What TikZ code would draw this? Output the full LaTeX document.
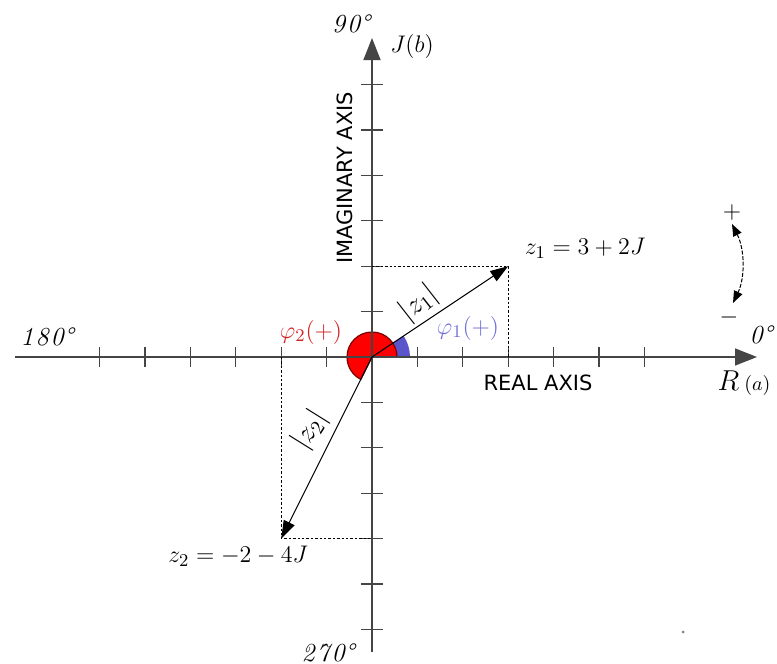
\documentclass[tikz,border=0pt]{standalone}
\usepackage{fontspec}
\newfontfamily\axisfont{DejaVu Sans}
\usetikzlibrary{arrows.meta}
\definecolor{axisgray}{HTML}{454545}
\definecolor{phired}{HTML}{FF0000}
\definecolor{phiredline}{HTML}{7A0000}
\definecolor{phiredtext}{HTML}{D42020}
\definecolor{phiblue}{HTML}{5B55CC}
\definecolor{phibluetext}{HTML}{7070D8}
\begin{document}
\begin{tikzpicture}[x=0.5pt,y=-0.5pt,
 axisline/.style={draw=axisgray,line width=0.75pt,-{Triangle[length=11pt,width=8.5pt]}},
 tickmark/.style={draw=axisgray,line width=0.6pt},
 vec/.style={draw=black,line width=0.5pt,-{Triangle[length=9pt,width=6pt]}},
 guide/.style={draw=black,line width=0.5pt,dash pattern=on 1.2pt off 1pt},
 deg/.style={font=\fontsize{13}{15}\selectfont\itshape},
 axname/.style={font=\axisfont\fontsize{10.5}{12}\selectfont},
 zlabel/.style={font=\fontsize{12.5}{15}\selectfont},
 mlabel/.style={font=\fontsize{14.5}{16}\selectfont,inner sep=0pt},
 philabel/.style={font=\fontsize{12.5}{15}\selectfont,inner sep=1pt},
]
\useasboundingbox (0,0) rectangle (777,664);
\fill[white] (0,0) rectangle (777,664);
% key points
\coordinate (O) at (372,357);
\coordinate (Z1) at (508.2,266.2);
\coordinate (Z2) at (281.2,538.6);
\coordinate (Z1x) at (508.2,357);
\coordinate (Z1y) at (372,266.2);
\coordinate (Z2x) at (281.2,357);
\coordinate (Z2y) at (372,538.6);
\coordinate (XL) at (15,357);
\coordinate (XR) at (757,357);
\coordinate (YB) at (372,652);
\coordinate (YT) at (372,38);
% angle sectors
\fill[phiblue] (O) -- ++(0:38) arc[start angle=0,end angle=-33.7,radius=38] -- cycle;
\filldraw[fill=phired,draw=phiredline,line width=0.6pt] (O) -- ++(0:25) arc[start angle=0,end angle=-243.4,radius=25] -- cycle;
% axes
\draw[axisline] (XL) -- (XR);
\draw[axisline] (YB) -- (YT);
\foreach \k in {-6,...,-1,1,2,...,6}{
  \draw[tickmark] (372+45.4*\k,347) -- (372+45.4*\k,367);
  \draw[tickmark] (361,357+45.4*\k) -- (383,357+45.4*\k);
}
% projections
\draw[guide] (Z1y) -- (Z1) -- (Z1x);
\draw[guide] (Z2x) -- (Z2) -- (Z2y);
% vectors
\draw[vec] (O) -- (Z1);
\draw[vec] (O) -- (Z2);
% labels
\node[deg] (d90) at (351,24) {9\kern1pt0\textdegree};
\node[font=\fontsize{13}{15}\selectfont] (Jb) at (412,46) {$J(b)$};
\node[axname,rotate=90] (imag) at (345,178) {IMAGINARY AXIS};
\node[axname] (real) at (538,383) {REAL AXIS};
\node[zlabel] (z1l) at (585,248) {$z_1=3+2J$};
\node[zlabel] (z2l) at (238,556) {$z_2=-2-4J$};
\node[mlabel,rotate=38] (m1) at (419,303) {$|z_1|$};
\node[mlabel,rotate=58] (m2) at (310,430) {$|z_2|$};
\node[philabel,text=phiredtext] (p2) at (311,332) {$\varphi_2(+)$};
\node[philabel,text=phibluetext] (p1) at (468,328) {$\varphi_1(+)$};
\node[deg] (d180) at (47,337) {1\kern1pt8\kern1pt0\textdegree};
\node[deg] (d0) at (761,335) {0\textdegree};
\node (Ra) at (744,383) {\fontsize{15}{17}\selectfont$R$\,\fontsize{10}{12}\selectfont$(a)$};
\node[deg] (d270) at (328,653) {2\kern1pt7\kern1pt0\textdegree};
\node[font=\fontsize{13}{15}\selectfont] (plus) at (732,212) {$+$};
\node[font=\fontsize{13}{15}\selectfont] (minus) at (729,317) {$-$};
% rotation sense arrow
\coordinate (ca) at (732,224);
\coordinate (cb) at (733,303);
\draw[line width=0.5pt,dash pattern=on 2pt off 0.8pt,{Triangle[length=6pt,width=4.5pt]}-{Triangle[length=6pt,width=4.5pt]}] (ca) .. controls (745,250) and (745,278) .. (cb);
\fill[gray] (683,632) circle[radius=1.5];
\end{tikzpicture}
\end{document}
